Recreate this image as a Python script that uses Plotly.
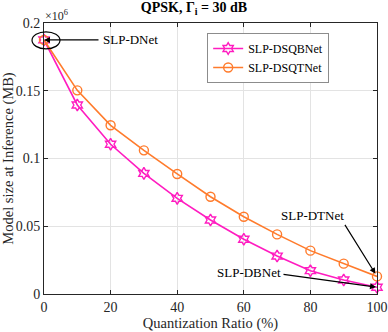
import plotly.graph_objects as go

ratio = [0, 10, 20, 30, 40, 50, 60, 70, 80, 90, 100]
dsqbnet = [0.1875, 0.1395, 0.1105, 0.089, 0.0706, 0.0546, 0.0404, 0.028, 0.0172, 0.0103, 0.005]
dsqtnet = [0.1875, 0.1503, 0.1245, 0.106, 0.0886, 0.0718, 0.057, 0.044, 0.032, 0.0224, 0.013]
x_ticks = [0, 20, 40, 60, 80, 100]
y_ticks = [0, 0.05, 0.1, 0.15, 0.2]
y_tick_text = ["0", "0.05", "0.1", "0.15", "0.2"]

PINK = "#ff1cc0"
ORANGE = "#ff7b2c"
FONT = "Times New Roman, Liberation Serif, DejaVu Serif, serif"
XR = [0, 100]
YR = [0, 0.2]

fig = go.Figure()
fig.add_trace(go.Scatter(x=ratio, y=dsqbnet, mode="lines+markers", name="SLP-DSQBNet",
                         line=dict(color=PINK, width=1.6),
                         marker=dict(symbol="hexagram-open", size=9, color=PINK, line=dict(width=1.4, color=PINK)),
                         cliponaxis=False))
fig.add_trace(go.Scatter(x=ratio, y=dsqtnet, mode="lines+markers", name="SLP-DSQTNet",
                         line=dict(color=ORANGE, width=1.6),
                         marker=dict(symbol="circle-open", size=9, color=ORANGE, line=dict(width=1.4, color=ORANGE)),
                         cliponaxis=False))

def px(v):
    return (v - XR[0]) / (XR[1] - XR[0])

def py(v):
    return (v - YR[0]) / (YR[1] - YR[0])

# ellipse around first point
cx, cy = px(ratio[0]), py(dsqtnet[0])
fig.add_shape(type="circle", xref="paper", yref="paper",
              x0=cx - 0.036, x1=cx + 0.048, y0=cy - 0.033, y1=cy + 0.030,
              line=dict(color="black", width=1.2))

annos = [
    dict(x=ratio[0], y=dsqtnet[0], ax=56, ay=0, text="", showarrow=True,
         arrowhead=2, arrowsize=1, arrowwidth=1.2, arrowcolor="black"),
    dict(x=ratio[0], y=dsqtnet[0], text="SLP-DNet", showarrow=False,
         xshift=86, font=dict(family=FONT, size=13, color="black")),
    dict(x=ratio[-1], y=dsqtnet[-1], ax=-33, ay=-53, text="", showarrow=True,
         arrowhead=2, arrowsize=1, arrowwidth=1.2, arrowcolor="black", standoff=3),
    dict(x=ratio[-1], y=dsqtnet[-1], text="SLP-DTNet", showarrow=False,
         xshift=-65, yshift=61, font=dict(family=FONT, size=13, color="black")),
    dict(x=ratio[-1], y=dsqbnet[-1], ax=-95, ay=-13, text="", showarrow=True,
         arrowhead=2, arrowsize=1, arrowwidth=1.2, arrowcolor="black", standoff=1),
    dict(x=ratio[-1], y=dsqbnet[-1], text="SLP-DBNet", showarrow=False,
         xshift=-128, yshift=15, font=dict(family=FONT, size=13, color="black")),
    dict(x=0, y=1, xref="paper", yref="paper", text="×10<sup>6</sup>", showarrow=False,
         xanchor="left", yanchor="bottom", xshift=-1, yshift=-2,
         font=dict(family=FONT, size=12, color="#262626")),
]
for a in annos:
    fig.add_annotation(**a)

axis_common = dict(showline=True, mirror="ticks", linecolor="#262626", linewidth=1,
                   ticks="inside", ticklen=4, tickcolor="#262626", automargin=False,
                   showgrid=True, gridcolor="#e3e3e3", gridwidth=1, zeroline=False,
                   tickfont=dict(family=FONT, size=14, color="#262626"))

fig.update_layout(
    width=388, height=332,
    margin=dict(l=44, r=11, t=23, b=38),
    paper_bgcolor="white", plot_bgcolor="white",
    font=dict(family=FONT),
    title=dict(text="<b>QPSK, Γ<sub>i</sub> = 30 dB</b>", x=0.5, xanchor="center",
               y=0.994, yanchor="top", font=dict(family=FONT, size=14, color="black")),
    xaxis=dict(range=XR, tickvals=x_ticks, **axis_common,
               title=dict(text="Quantization Ratio (%)", standoff=2,
                          font=dict(family=FONT, size=14.5, color="#262626"))),
    yaxis=dict(range=YR, tickvals=y_ticks, ticktext=y_tick_text, **axis_common,
               title=dict(text="Model size at Inference (MB)", standoff=2,
                          font=dict(family=FONT, size=14.5, color="#262626"))),
    legend=dict(x=0.49, y=0.963, xanchor="left", yanchor="top",
                bgcolor="white", bordercolor="#8c8c8c", borderwidth=1,
                font=dict(family=FONT, size=12, color="black"),
                tracegroupgap=0, itemwidth=30),
    showlegend=True,
)

fig.write_html("out.html", config={"displayModeBar": False},
               post_script="document.body.style.margin='0';")
